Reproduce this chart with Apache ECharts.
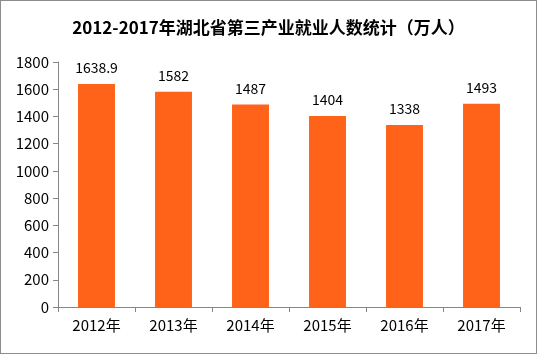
<!DOCTYPE html>
<html><head><meta charset="utf-8">
<script src="https://cdn.jsdelivr.net/npm/echarts@6/dist/echarts.min.js"></script>
<style>
html,body{margin:0;padding:0;background:#fff;}
#c{width:535px;height:352px;border:1px solid #8c8c8c;}
</style></head>
<body><div id="c"></div>
<script>
const title = '2012-2017年湖北省第三产业就业人数统计（万人）';
const categories = ['2012年','2013年','2014年','2015年','2016年','2017年'];
const values = [1638.9, 1582, 1487, 1404, 1338, 1493];
const labels = ['1638.9','1582','1487','1404','1338','1493'];
const yMin = 0, yMax = 1800, yStep = 200;

const chart = echarts.init(document.getElementById('c'));
chart.setOption({
  animation:false,
  title:{text:title,left:'center',top:13,
    textStyle:{fontFamily:'Noto Sans CJK SC',fontSize:17,fontWeight:'bold',color:'#000'}},
  grid:{left:57,right:16,top:61,bottom:46},
  xAxis:{type:'category',data:categories,
    axisLine:{lineStyle:{color:'#868686'}},
    axisTick:{show:true,length:5,lineStyle:{color:'#868686'}},
    axisLabel:{color:'#000',fontSize:15,margin:11,fontFamily:'Noto Sans CJK SC'}},
  yAxis:{type:'value',min:yMin,max:yMax,interval:yStep,
    axisLine:{show:true,lineStyle:{color:'#868686'}},
    axisTick:{show:true,length:5,lineStyle:{color:'#868686'}},
    splitLine:{show:false},
    axisLabel:{color:'#000',fontSize:15,margin:9,fontFamily:'Noto Sans CJK SC',
      formatter:v=>String(v)}},
  series:[{type:'bar',data:values,barWidth:'48%',
    itemStyle:{color:'#FF631A'},
    label:{show:true,position:'top',distance:9,color:'#000',fontSize:14,fontFamily:'Noto Sans CJK SC',
      formatter:p=>labels[p.dataIndex]}}]
});
</script></body></html>
